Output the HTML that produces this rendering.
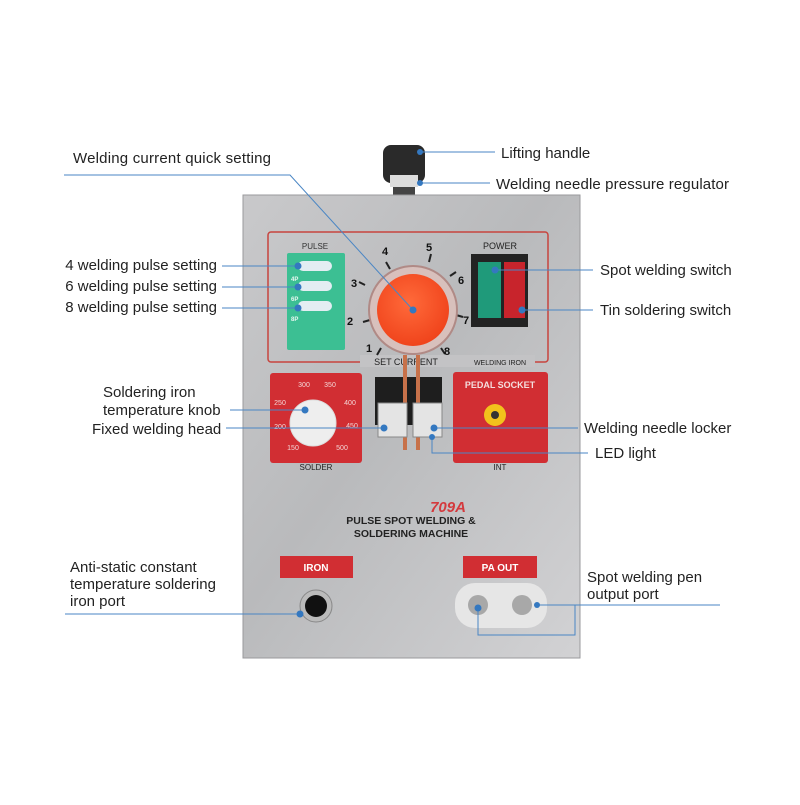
<!DOCTYPE html>
<html><head><style>
body{margin:0;background:#fff}
svg text{font-family:"Liberation Sans",sans-serif}
</style></head><body>
<svg width="800" height="800" viewBox="0 0 800 800" xmlns="http://www.w3.org/2000/svg">
<defs>
<linearGradient id="steel" x1="0" y1="0" x2="1" y2="1">
<stop offset="0" stop-color="#c9c9cb"/><stop offset="0.45" stop-color="#b9babc"/><stop offset="1" stop-color="#d2d2d4"/>
</linearGradient>
<radialGradient id="org" cx="0.45" cy="0.4" r="0.6"><stop offset="0" stop-color="#ff6a3a"/><stop offset="1" stop-color="#f0441c"/></radialGradient>
</defs>
<rect width="800" height="800" fill="#fff"/>
<!-- handle -->
<rect x="383" y="145" width="42" height="38" rx="8" fill="#2a2a2a"/>
<rect x="390" y="175" width="28" height="12" fill="#ddd"/>
<rect x="393" y="187" width="22" height="9" fill="#444"/>
<!-- body -->
<rect x="243" y="195" width="337" height="463" fill="url(#steel)" stroke="#9a9a9c"/>
<!-- red outline panel -->
<rect x="268" y="232" width="280" height="130" rx="3" fill="none" stroke="#c7443e" stroke-width="1.5"/>
<rect x="360" y="355" width="175" height="12" fill="#c3c3c5"/>
<text x="406" y="365" font-size="9" fill="#222" text-anchor="middle">SET CURRENT</text>
<text x="500" y="365" font-size="7" fill="#222" text-anchor="middle">WELDING   IRON</text>
<!-- pulse -->
<text x="315" y="249" font-size="8" fill="#333" text-anchor="middle">PULSE</text>
<rect x="287" y="253" width="58" height="97" rx="2" fill="#3cbf93"/>
<rect x="298" y="261" width="34" height="10" rx="5" fill="#e3edf2"/>
<rect x="298" y="281" width="34" height="10" rx="5" fill="#e3edf2"/>
<rect x="298" y="301" width="34" height="10" rx="5" fill="#e3edf2"/>
<text x="291" y="281" font-size="6" fill="#e8f6f0" font-weight="bold">4P</text>
<text x="291" y="301" font-size="6" fill="#e8f6f0" font-weight="bold">6P</text>
<text x="291" y="321" font-size="6" fill="#e8f6f0" font-weight="bold">8P</text>
<!-- dial -->
<g stroke="#222" stroke-width="2">
<line x1="386" y1="262" x2="390" y2="269"/><line x1="431" y1="254" x2="429" y2="262"/>
<line x1="450" y1="276" x2="456" y2="272"/><line x1="456" y1="315" x2="463" y2="317"/>
<line x1="370" y1="320" x2="363" y2="322"/><line x1="365" y1="285" x2="359" y2="282"/>
<line x1="381" y1="348" x2="377" y2="355"/><line x1="441" y1="348" x2="445" y2="354"/>
</g>
<circle cx="413" cy="310" r="44" fill="#d8c0bc" stroke="#b08a86" stroke-width="2"/>
<circle cx="413" cy="310" r="36" fill="url(#org)"/>
<g font-size="11" font-weight="bold" fill="#111" text-anchor="middle">
<text x="385" y="255">4</text><text x="429" y="251">5</text><text x="461" y="284">6</text>
<text x="466" y="324">7</text><text x="447" y="355">8</text><text x="369" y="352">1</text>
<text x="350" y="325">2</text><text x="354" y="287">3</text></g>
<!-- power -->
<text x="500" y="249" font-size="9" fill="#222" text-anchor="middle">POWER</text>
<rect x="471" y="254" width="57" height="73" fill="#232323"/>
<rect x="478" y="262" width="23" height="56" fill="#1f9a7a"/>
<rect x="504" y="262" width="21" height="56" fill="#c8242c"/>
<!-- solder -->
<rect x="270" y="373" width="92" height="90" rx="3" fill="#d12e33"/>
<circle cx="313" cy="423" r="23" fill="#eee" stroke="#ddd"/>
<g font-size="7" fill="#f4d6d6" text-anchor="middle">
<text x="304" y="387">300</text><text x="330" y="387">350</text><text x="350" y="405">400</text>
<text x="352" y="428">450</text><text x="342" y="450">500</text><text x="293" y="450">150</text>
<text x="280" y="429">200</text><text x="280" y="405">250</text></g>
<text x="316" y="470" font-size="8" fill="#222" text-anchor="middle">SOLDER</text>
<!-- center block -->
<rect x="375" y="377" width="67" height="48" fill="#1e1e1e"/>
<rect x="403" y="355" width="4" height="95" fill="#c7714a"/>
<rect x="416" y="355" width="4" height="95" fill="#c7714a"/>
<rect x="378" y="403" width="29" height="34" fill="#e4e4e4" stroke="#888"/>
<rect x="413" y="403" width="29" height="34" fill="#e4e4e4" stroke="#888"/>
<!-- pedal -->
<rect x="453" y="372" width="95" height="91" rx="3" fill="#d12e33"/>
<text x="500" y="388" font-size="9" font-weight="bold" fill="#f4dede" text-anchor="middle">PEDAL SOCKET</text>
<circle cx="495" cy="415" r="11" fill="#f2c21c"/><circle cx="495" cy="415" r="4" fill="#333"/>
<text x="500" y="470" font-size="8" fill="#222" text-anchor="middle">INT</text>
<!-- titles -->
<text x="448" y="512" font-size="15" font-weight="bold" fill="#d43a3e" text-anchor="middle" font-style="italic">709A</text>
<text x="411" y="524" font-size="10.5" font-weight="bold" fill="#222" text-anchor="middle">PULSE SPOT WELDING &amp;</text>
<text x="411" y="537" font-size="10.5" font-weight="bold" fill="#222" text-anchor="middle">SOLDERING MACHINE</text>
<rect x="280" y="556" width="73" height="22" fill="#d12e33"/>
<text x="316" y="571" font-size="10" font-weight="bold" fill="#fff" text-anchor="middle">IRON</text>
<circle cx="316" cy="606" r="16" fill="#bbb" stroke="#888"/><circle cx="316" cy="606" r="11" fill="#111"/>
<rect x="463" y="556" width="74" height="22" fill="#d12e33"/>
<text x="500" y="571" font-size="10" font-weight="bold" fill="#fff" text-anchor="middle">PA   OUT</text>
<rect x="455" y="583" width="92" height="45" rx="20" fill="#e6e6e6"/>
<circle cx="478" cy="605" r="10" fill="#a8a8a8"/><circle cx="522" cy="605" r="10" fill="#a8a8a8"/>
<!-- callouts -->
<g stroke="#4a86c4" stroke-width="1" fill="none">
<polyline points="64,175 290,175 413,310"/>
<line x1="420" y1="152" x2="495" y2="152"/>
<line x1="420" y1="183" x2="490" y2="183"/>
<line x1="222" y1="266" x2="298" y2="266"/>
<line x1="222" y1="287" x2="298" y2="287"/>
<line x1="222" y1="308" x2="298" y2="308"/>
<line x1="495" y1="270" x2="593" y2="270"/>
<line x1="522" y1="310" x2="593" y2="310"/>
<line x1="230" y1="410" x2="305" y2="410"/>
<line x1="226" y1="428" x2="384" y2="428"/>
<line x1="434" y1="428" x2="578" y2="428"/>
<polyline points="432,437 432,453 588,453"/>
<line x1="65" y1="614" x2="300" y2="614"/>
<polyline points="478,608 478,635 575,635 575,605 537,605"/>
<line x1="575" y1="605" x2="720" y2="605"/>
</g>
<g fill="#3478c0">
<circle cx="413" cy="310" r="3.5"/><circle cx="420" cy="152" r="3"/><circle cx="420" cy="183" r="3"/>
<circle cx="298" cy="266" r="3.5"/><circle cx="298" cy="287" r="3.5"/><circle cx="298" cy="308" r="3.5"/>
<circle cx="495" cy="270" r="3.5"/><circle cx="522" cy="310" r="3.5"/><circle cx="305" cy="410" r="3.5"/>
<circle cx="384" cy="428" r="3.5"/><circle cx="434" cy="428" r="3.5"/><circle cx="432" cy="437" r="3"/>
<circle cx="300" cy="614" r="3.5"/><circle cx="478" cy="608" r="3.5"/><circle cx="537" cy="605" r="3"/>
</g>
<g font-size="15" fill="#222">
<text x="73" y="163" textLength="198">Welding current quick setting</text>
<text x="501" y="158">Lifting handle</text>
<text x="496" y="189" textLength="233">Welding needle pressure regulator</text>
<text x="217" y="270" text-anchor="end">4 welding pulse setting</text>
<text x="217" y="291" text-anchor="end">6 welding pulse setting</text>
<text x="217" y="312" text-anchor="end">8 welding pulse setting</text>
<text x="600" y="275">Spot welding switch</text>
<text x="600" y="315">Tin soldering switch</text>
<text x="103" y="397">Soldering iron</text>
<text x="103" y="415">temperature knob</text>
<text x="92" y="434">Fixed welding head</text>
<text x="584" y="433">Welding needle locker</text>
<text x="595" y="458">LED light</text>
<text x="70" y="572">Anti-static constant</text>
<text x="70" y="589">temperature soldering</text>
<text x="70" y="606">iron port</text>
<text x="587" y="582">Spot welding pen</text>
<text x="587" y="599">output port</text>
</g>
</svg>
</body></html>
